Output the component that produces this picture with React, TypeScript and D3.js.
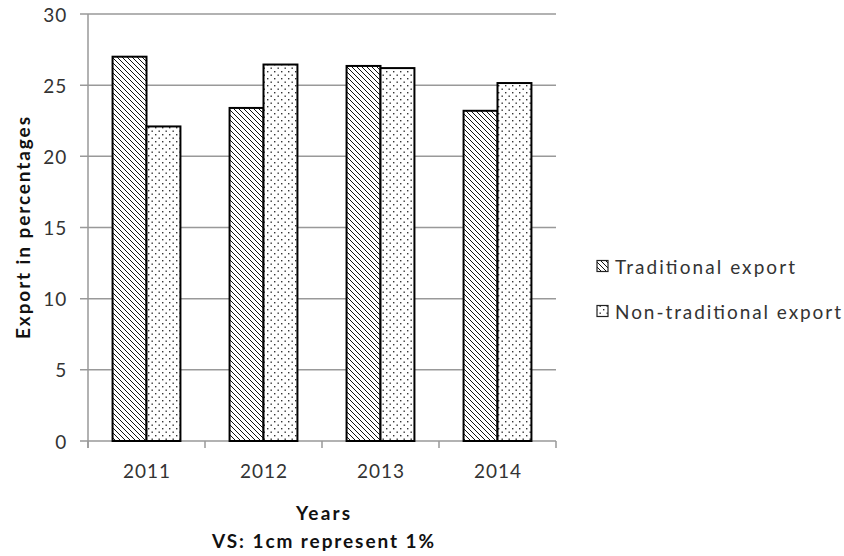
import React from "react";
import * as d3 from "d3";

const years = ["2011", "2012", "2013", "2014"];
const traditional = [27.0, 23.4, 26.35, 23.2];
const nonTraditional = [22.1, 26.45, 26.2, 25.15];
const seriesNames = ["Traditional export", "Non-traditional export"];
const yTicks = [0, 5, 10, 15, 20, 25, 30];

const W = 844;
const H = 556;
const left = 88;
const right = 556;
const top = 14;
const bottom = 441;
const FONT = "Lato, 'Open Sans', 'DejaVu Sans', sans-serif";

export default function App() {
  const x = d3
    .scaleBand<string>()
    .domain(years)
    .range([left, right])
    .paddingInner(0.42)
    .paddingOuter(0.21);
  const xs = d3.scaleBand<string>().domain(["t", "n"]).range([0, x.bandwidth()]);
  const y = d3.scaleLinear().domain([0, 30]).range([bottom, top]);
  const step = x.step();
  const boundaries = d3.range(years.length + 1).map((i) => left + i * step);
  const legendLen = [180, 226];

  return (
    <svg
      width={W}
      height={H}
      style={{ position: "absolute", left: 0, top: 0, background: "#fff" }}
    >
      <defs>
        <pattern id="hatch" width="5" height="5" patternUnits="userSpaceOnUse">
          <rect width="5" height="5" fill="#fff" />
          <path d="M-1,-1 L6,6 M-1,4 L1,6 M4,-1 L6,1" stroke="#111" strokeWidth="1" />
        </pattern>
        <pattern id="dots" width="7" height="7" patternUnits="userSpaceOnUse">
          <rect width="7" height="7" fill="#fff" />
          <rect x="1" y="1" width="1.4" height="1.4" fill="#333" />
          <rect x="4.5" y="4.5" width="1.4" height="1.4" fill="#333" />
        </pattern>
      </defs>

      {yTicks.map((t) => (
        <line
          key={"g" + t}
          x1={left - 8}
          x2={right}
          y1={y(t)}
          y2={y(t)}
          stroke="#999"
          strokeWidth={1.5}
        />
      ))}
      <line x1={left} x2={left} y1={top} y2={bottom + 7} stroke="#999" strokeWidth={1.5} />
      {boundaries.map((b, i) => (
        <line key={"xt" + i} x1={b} x2={b} y1={bottom} y2={bottom + 7} stroke="#999" strokeWidth={1.5} />
      ))}
      {yTicks.map((t) => (
        <text
          key={"yl" + t}
          x={67}
          y={y(t)}
          textAnchor="end"
          dominantBaseline="central"
          fontFamily={FONT}
          fontSize={19}
          letterSpacing={0.8}
          fill="#333"
        >
          {t}
        </text>
      ))}

      {years.map((yr, i) => (
        <g key={yr}>
          <rect
            x={x(yr)! + xs("t")!}
            y={y(traditional[i])}
            width={xs.bandwidth()}
            height={bottom - y(traditional[i])}
            fill="url(#hatch)"
            stroke="#000"
            strokeWidth={2}
          />
          <rect
            x={x(yr)! + xs("n")!}
            y={y(nonTraditional[i])}
            width={xs.bandwidth()}
            height={bottom - y(nonTraditional[i])}
            fill="url(#dots)"
            stroke="#000"
            strokeWidth={2}
          />
          <text
            x={x(yr)! + x.bandwidth() / 2}
            y={470}
            textAnchor="middle"
            dominantBaseline="central"
            fontFamily={FONT}
            fontSize={19}
            textLength={47}
            lengthAdjust="spacing"
            fill="#333"
          >
            {yr}
          </text>
        </g>
      ))}

      <text
        transform={`translate(22,228) rotate(-90)`}
        textAnchor="middle"
        dominantBaseline="central"
        fontFamily={FONT}
        fontWeight="bold"
        fontSize={19}
        textLength={222}
        lengthAdjust="spacing"
        fill="#111"
      >
        Export in percentages
      </text>
      <text
        x={323}
        y={512}
        textAnchor="middle"
        dominantBaseline="central"
        fontFamily={FONT}
        fontWeight="bold"
        fontSize={19}
        textLength={54}
        lengthAdjust="spacing"
        fill="#111"
      >
        Years
      </text>
      <text
        x={323}
        y={540}
        textAnchor="middle"
        dominantBaseline="central"
        fontFamily={FONT}
        fontWeight="bold"
        fontSize={19}
        textLength={222}
        lengthAdjust="spacing"
        fill="#111"
      >
        VS: 1cm represent 1%
      </text>

      {seriesNames.map((s, i) => {
        const ly = 266 + i * 45;
        return (
          <g key={s}>
            <rect
              x={597}
              y={ly - 5.5}
              width={11}
              height={11}
              fill={i === 0 ? "url(#hatch)" : "url(#dots)"}
              stroke="#222"
              strokeWidth={1.2}
            />
            <text
              x={615}
              y={ly}
              dominantBaseline="central"
              fontFamily={FONT}
              fontSize={19}
              textLength={legendLen[i]}
              lengthAdjust="spacing"
              fill="#333"
            >
              {s}
            </text>
          </g>
        );
      })}
    </svg>
  );
}
